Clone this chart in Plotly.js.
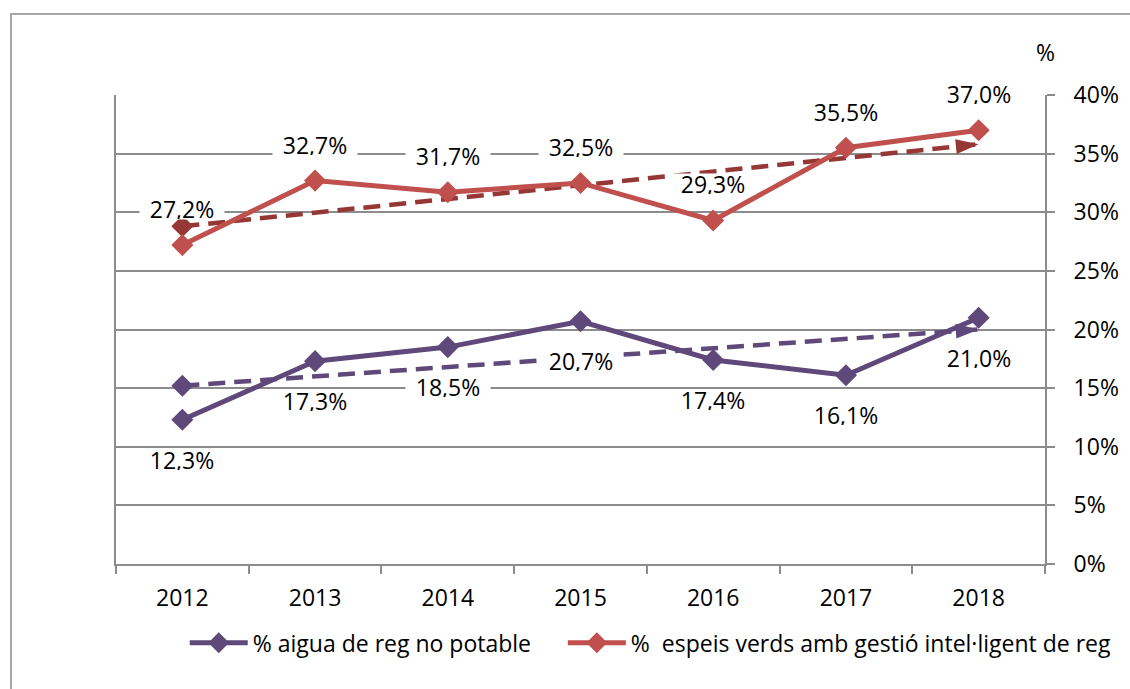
<!DOCTYPE html>
<html>
<head>
<meta charset="utf-8">
<script src="https://cdn.plot.ly/plotly-3.0.1.min.js"></script>
<style>
  html, body { margin: 0; padding: 0; background: #ffffff; }
  #frame { position: absolute; left: 10px; top: 13px; width: 1200px; height: 800px; border: 2px solid #a6a6a6; box-sizing: border-box; }
  #chart { position: absolute; left: 0; top: 0; width: 1130px; height: 689px; }
</style>
</head>
<body>
<div id="frame"></div>
<div id="chart"></div>
<script>
// ---- data ----
const years = ['2012', '2013', '2014', '2015', '2016', '2017', '2018'];
const aiguaNoPotable = [12.3, 17.3, 18.5, 20.7, 17.4, 16.1, 21.0];
const espaisGestio = [27.2, 32.7, 31.7, 32.5, 29.3, 35.5, 37.0];
const trendYears = ['2012', '2018'];
const aiguaTrend = [15.2, 20.0];
const espaisTrend = [28.8, 35.8];
const yTicks = [0, 5, 10, 15, 20, 25, 30, 35, 40];
const seriesNames = ['% aigua de reg no potable', '%  espeis verds amb gestió intel·ligent de reg'];

const FONT = 'Open Sans, Noto Sans, sans-serif';
const FS = 23;
const PURPLE = '#5f497a';
const RED = '#c0504d';
const RED_DARK = '#953735';

const fmt = v => v.toFixed(1).replace('.', ',') + '%';

const traces = [
  {
    x: trendYears, y: aiguaTrend, type: 'scatter', mode: 'lines+markers', opacity: 1,
    line: { color: PURPLE, width: 4.5, dash: '17px,9px' },
    marker: { symbol: ['diamond', 'arrow'], size: [17, 24], color: PURPLE, opacity: 1,
              angle: [0, 86], line: { width: 0 } },
    showlegend: false, hoverinfo: 'skip'
  },
  {
    x: trendYears, y: espaisTrend, type: 'scatter', mode: 'lines+markers', opacity: 1,
    line: { color: RED_DARK, width: 4.5, dash: '17px,9px' },
    marker: { symbol: ['diamond', 'arrow'], size: [17, 24], color: RED_DARK, opacity: 1,
              angle: [0, 84], line: { width: 0 } },
    showlegend: false, hoverinfo: 'skip'
  },
  {
    x: years, y: aiguaNoPotable, type: 'scatter', mode: 'lines+markers', name: seriesNames[0],
    line: { color: PURPLE, width: 5 },
    marker: { symbol: 'diamond', size: 17, color: PURPLE },
    legend: 'legend'
  },
  {
    x: years, y: espaisGestio, type: 'scatter', mode: 'lines+markers', name: seriesNames[1],
    line: { color: RED, width: 5 },
    marker: { symbol: 'diamond', size: 17, color: RED },
    legend: 'legend2'
  }
];

const annotations = [];
years.forEach((yr, i) => {
  annotations.push({
    x: i, y: espaisGestio[i], xref: 'x', yref: 'y', text: fmt(espaisGestio[i]),
    showarrow: false, yshift: 36, bgcolor: '#ffffff', borderpad: 0, width: 84, height: 20,
    font: { family: FONT, size: FS, color: '#000000' }
  });
  annotations.push({
    x: i, y: aiguaNoPotable[i], xref: 'x', yref: 'y', text: fmt(aiguaNoPotable[i]),
    showarrow: false, yshift: -40, bgcolor: '#ffffff', borderpad: 0, width: 84, height: 20,
    font: { family: FONT, size: FS, color: '#000000' }
  });
});
annotations.push({
  x: 1, y: 1, xref: 'paper', yref: 'paper', text: '%', showarrow: false,
  xanchor: 'center', yanchor: 'middle', yshift: 43,
  font: { family: FONT, size: FS, color: '#000000' }
});

const legendBase = {
  orientation: 'h', y: -0.168, xanchor: 'left', yanchor: 'middle',
  font: { family: FONT, size: FS, color: '#000000' },
  bgcolor: 'rgba(0,0,0,0)', itemwidth: 58
};

const layout = {
  width: 1130, height: 689,
  margin: { l: 116, r: 85, t: 95, b: 125, pad: 0 },
  paper_bgcolor: 'rgba(0,0,0,0)',
  plot_bgcolor: 'rgba(0,0,0,0)',
  font: { family: FONT, size: FS, color: '#000000' },
  showlegend: true,
  legend: Object.assign({}, legendBase, { x: 0.074 }),
  legend2: Object.assign({}, legendBase, { x: 0.481 }),
  xaxis: {
    type: 'category', categoryarray: years, range: [-0.5, 6.5],
    tickson: 'boundaries', ticks: 'outside', ticklen: 8, tickwidth: 2, tickcolor: '#8c8c8c',
    showgrid: false, showline: true, linecolor: '#8c8c8c', linewidth: 2, mirror: false,
    zeroline: false, ticklabelstandoff: 12,
    tickfont: { family: FONT, size: FS, color: '#000000' }
  },
  yaxis: {
    side: 'right', range: [0, 40], tickvals: yTicks, ticktext: yTicks.map(v => v + '%'),
    ticks: 'outside', ticklen: 8, tickwidth: 2, tickcolor: '#8c8c8c',
    showgrid: true, gridcolor: '#8c8c8c', gridwidth: 2,
    showline: true, linecolor: '#8c8c8c', linewidth: 2, mirror: true,
    zeroline: false, ticklabelstandoff: 14,
    tickfont: { family: FONT, size: FS, color: '#000000' }
  },
  annotations: annotations
};

Plotly.newPlot('chart', traces, layout, { staticPlot: true, displayModeBar: false });
</script>
</body>
</html>
